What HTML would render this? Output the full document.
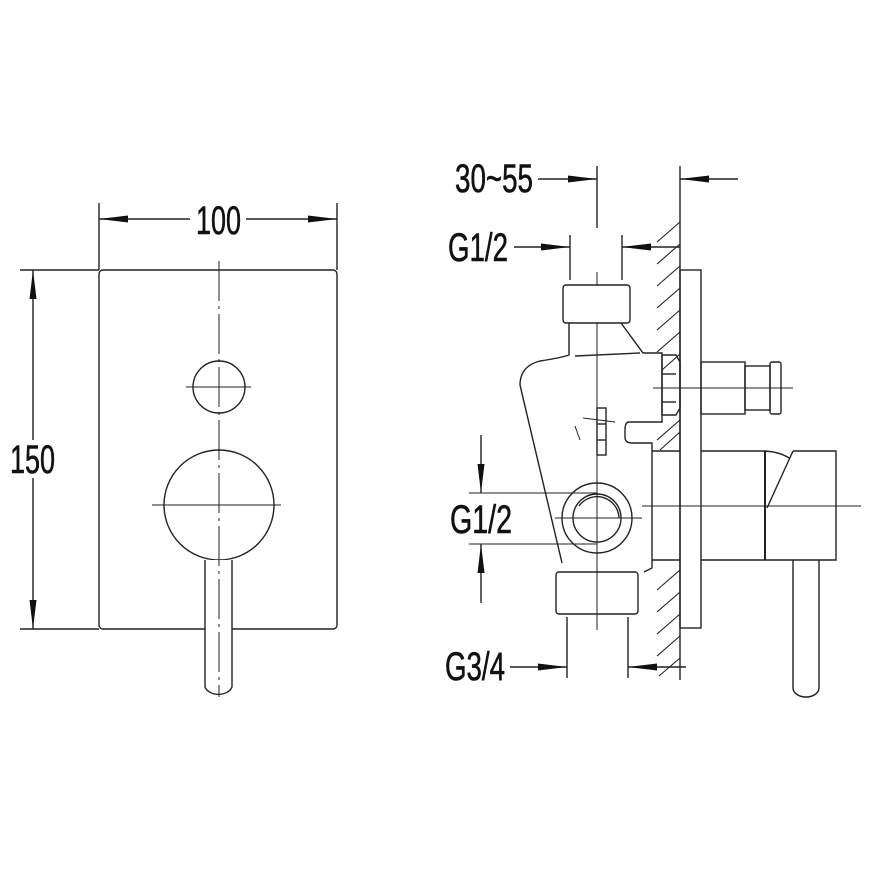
<!DOCTYPE html>
<html><head><meta charset="utf-8"><style>html,body{margin:0;padding:0;background:#fff}svg{display:block}</style></head>
<body>
<svg width="870" height="870" viewBox="0 0 870 870" xmlns="http://www.w3.org/2000/svg">
<defs>
<marker id="a" markerWidth="30" markerHeight="12" refX="29" refY="5" orient="auto" markerUnits="userSpaceOnUse"><path d="M0,1.5 L29,5 L0,8.5 Z" fill="#111"/></marker>
</defs>
<g fill="none" stroke="#222" stroke-width="1.4">
<!-- LEFT VIEW -->
<rect x="99" y="270" width="238" height="359" rx="4"/>
<line x1="99" y1="203" x2="99" y2="270"/><line x1="337" y1="203" x2="337" y2="270"/>
<line x1="190" y1="219" x2="99" y2="219" marker-end="url(#a)"/>
<line x1="246" y1="219" x2="337" y2="219" marker-end="url(#a)"/>
<line x1="20" y1="270" x2="99" y2="270"/><line x1="20" y1="629" x2="99" y2="629"/>
<line x1="33" y1="440" x2="33" y2="270" marker-end="url(#a)"/>
<line x1="33" y1="478" x2="33" y2="629" marker-end="url(#a)"/>
<circle cx="219" cy="387" r="26"/>
<circle cx="219" cy="505" r="55"/>
<path d="M205,560 V687 A14,10 0 0 0 232,687 V560" fill="#fff"/>
<line x1="219" y1="261" x2="219" y2="697" stroke-dasharray="40,5,3,5" stroke-width="1"/>
<line x1="186" y1="387" x2="251" y2="387" stroke-width="1"/>
<line x1="152" y1="505" x2="281" y2="505" stroke-width="1"/>

<!-- RIGHT VIEW -->
<line x1="538" y1="179" x2="597" y2="179" marker-end="url(#a)"/>
<line x1="738" y1="179" x2="680" y2="179" marker-end="url(#a)"/>
<line x1="597" y1="166" x2="597" y2="228"/>
<line x1="680" y1="166" x2="680" y2="680"/>
<line x1="514" y1="247" x2="570" y2="247" marker-end="url(#a)"/>
<line x1="680" y1="247" x2="622" y2="247" marker-end="url(#a)"/>
<line x1="570" y1="235" x2="570" y2="280"/><line x1="622" y1="235" x2="622" y2="280"/>
<line x1="597" y1="272" x2="597" y2="630" stroke-width="1"/>
<g stroke-width="1.1">
<line x1="657" y1="242" x2="680" y2="222"/><line x1="657" y1="264" x2="680" y2="244"/>
<line x1="657" y1="286" x2="680" y2="266"/><line x1="657" y1="308" x2="680" y2="288"/>
<line x1="657" y1="330" x2="680" y2="310"/><line x1="657" y1="352" x2="680" y2="332"/>
<line x1="662" y1="370" x2="680" y2="354"/>
<line x1="657" y1="440" x2="680" y2="420"/><line x1="660" y1="450" x2="680" y2="432"/>
<line x1="657" y1="590" x2="680" y2="570"/><line x1="657" y1="612" x2="680" y2="592"/>
<line x1="657" y1="634" x2="680" y2="614"/><line x1="657" y1="656" x2="680" y2="636"/>
<line x1="659" y1="676" x2="680" y2="658"/>
</g>
<rect x="563" y="285" width="67" height="38" rx="3" fill="#fff"/>
<path d="M569,323 V355 Q560,358 540,361 Q520,366 520,385 L562,563"/>
<path d="M621,323 L643,353 H662 V422 H629 Q625,422 625,430 V437 Q625,443 632,443 H652 V568 L644,572"/>
<line x1="575" y1="356" x2="640" y2="353"/>
<line x1="652" y1="451" x2="680" y2="451"/><line x1="652" y1="560" x2="680" y2="560"/>
<path d="M662,355 H676 L680,362 V408 L676,415 H662 Z"/>
<line x1="662" y1="374" x2="676" y2="374"/><line x1="662" y1="402" x2="676" y2="402"/>
<rect x="680" y="270" width="21" height="358"/>
<rect x="701" y="362" width="44" height="52"/>
<rect x="745" y="366" width="25" height="44"/>
<rect x="770" y="362" width="11" height="52" rx="2"/>
<line x1="653" y1="388" x2="793" y2="388" stroke-width="1"/>
<rect x="597" y="408" width="9" height="47"/>
<line x1="597" y1="424" x2="606" y2="424"/><line x1="597" y1="440" x2="606" y2="440"/>
<line x1="583" y1="418" x2="615" y2="422" stroke-width="1"/>
<line x1="575" y1="426" x2="580" y2="440" stroke-width="1"/>
<path d="M701,451 H765 V560 H701"/>
<path d="M765,451 Q780,452 789,458 M793,451 H836 V560 H765 M793,451 L767,508"/>
<line x1="765" y1="451" x2="765" y2="560" stroke-width="2"/>
<line x1="642" y1="506" x2="861" y2="506" stroke-width="1"/>
<path d="M793,560 V688 A13,9 0 0 0 819,688 V560"/>
<circle cx="597" cy="518" r="35"/>
<circle cx="597" cy="518" r="24"/>
<path d="M579,506 A22,22 0 0 1 619,518" />
<line x1="555" y1="518" x2="642" y2="518" stroke-width="1"/>
<line x1="469" y1="493" x2="597" y2="493" stroke-width="1"/>
<line x1="469" y1="544" x2="597" y2="544" stroke-width="1"/>
<line x1="481" y1="435" x2="481" y2="493" marker-end="url(#a)"/>
<line x1="481" y1="603" x2="481" y2="544" marker-end="url(#a)"/>
<rect x="556" y="572" width="82" height="42" rx="3" fill="#fff"/>
<line x1="597" y1="572" x2="597" y2="630" stroke-width="1"/>
<line x1="567" y1="617" x2="567" y2="678"/><line x1="628" y1="617" x2="628" y2="678"/>
<line x1="510" y1="667" x2="567" y2="667" marker-end="url(#a)"/>
<line x1="686" y1="667" x2="628" y2="667" marker-end="url(#a)"/>
</g>
<g font-family="Liberation Sans, sans-serif" font-size="40" fill="#111" stroke="#111" stroke-width="0.6">
<text x="196" y="234" textLength="45" lengthAdjust="spacingAndGlyphs">100</text>
<text x="10" y="473" textLength="45" lengthAdjust="spacingAndGlyphs">150</text>
<text x="455" y="192" textLength="78" lengthAdjust="spacingAndGlyphs">30~55</text>
<text x="448" y="261" textLength="60" lengthAdjust="spacingAndGlyphs">G1/2</text>
<text x="450" y="533" textLength="62" lengthAdjust="spacingAndGlyphs">G1/2</text>
<text x="445" y="680" textLength="60" lengthAdjust="spacingAndGlyphs">G3/4</text>
</g>
</svg>
</body></html>
